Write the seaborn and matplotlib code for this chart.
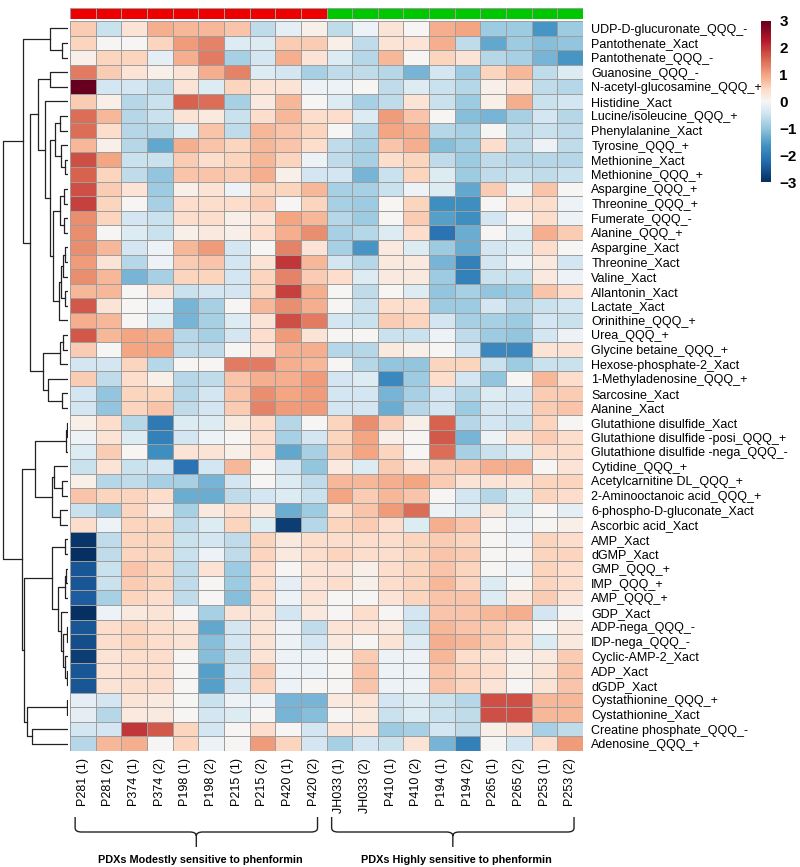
import numpy as np
import pandas as pd
import seaborn as sns
import matplotlib.pyplot as plt
from matplotlib.colors import ListedColormap
from matplotlib.path import Path
from matplotlib.patches import PathPatch

plt.rcParams['font.family'] = ['Liberation Sans', 'DejaVu Sans']

# Row / column labels
metabolites = [
    'UDP-D-glucuronate_QQQ_-', 'Pantothenate_Xact', 'Pantothenate_QQQ_-', 'Guanosine_QQQ_-',
    'N-acetyl-glucosamine_QQQ_+', 'Histidine_Xact', 'Lucine/isoleucine_QQQ_+', 'Phenylalanine_Xact',
    'Tyrosine_QQQ_+', 'Methionine_Xact', 'Methionine_QQQ_+', 'Aspargine_QQQ_+', 'Threonine_QQQ_+',
    'Fumerate_QQQ_-', 'Alanine_QQQ_+', 'Aspargine_Xact', 'Threonine_Xact', 'Valine_Xact',
    'Allantonin_Xact', 'Lactate_Xact', 'Orinithine_QQQ_+', 'Urea_QQQ_+', 'Glycine betaine_QQQ_+',
    'Hexose-phosphate-2_Xact', '1-Methyladenosine_QQQ_+', 'Sarcosine_Xact', 'Alanine_Xact',
    'Glutathione disulfide_Xact', 'Glutathione disulfide -posi_QQQ_+',
    'Glutathione disulfide -nega_QQQ_-', 'Cytidine_QQQ_+', 'Acetylcarnitine DL_QQQ_+',
    '2-Aminooctanoic acid_QQQ_+', '6-phospho-D-gluconate_Xact', 'Ascorbic acid_Xact', 'AMP_Xact',
    'dGMP_Xact', 'GMP_QQQ_+', 'IMP_QQQ_+', 'AMP_QQQ_+', 'GDP_Xact', 'ADP-nega_QQQ_-',
    'IDP-nega_QQQ_-', 'Cyclic-AMP-2_Xact', 'ADP_Xact', 'dGDP_Xact', 'Cystathionine_QQQ_+',
    'Cystathionine_Xact', 'Creatine phosphate_QQQ_-', 'Adenosine_QQQ_+']

samples_modest = ['P281 (1)', 'P281 (2)', 'P374 (1)', 'P374 (2)', 'P198 (1)',
                  'P198 (2)', 'P215 (1)', 'P215 (2)', 'P420 (1)', 'P420 (2)']
samples_high = ['JH033 (1)', 'JH033 (2)', 'P410 (1)', 'P410 (2)', 'P194 (1)',
                'P194 (2)', 'P265 (1)', 'P265 (2)', 'P253 (1)', 'P253 (2)']

group_names = ['PDXs Modestly sensitive to phenformin', 'PDXs Highly sensitive to phenformin']

# z-scores, modestly sensitive PDXs
z_modest = [
    [0.6, -0.5, 0.3, 0.9, 0.8, 0.8, 0.7, -0.6, -0.2, 0.1],
    [0.5, 0.0, 0.0, 0.5, 1.1, 1.3, -0.3, -0.3, 0.6, 0.6],
    [0.1, 0.5, 0.5, -0.2, 0.9, 1.4, -0.8, -0.4, 0.9, 0.3],
    [1.4, 0.6, 0.3, 0.1, 0.3, 0.9, 1.3, -0.3, -0.4, -0.8],
    [3.0, -0.4, -0.4, -0.6, 0.3, -0.3, 0.5, 0.3, 0.3, -0.1],
    [0.6, 0.1, -0.7, -0.5, 1.6, 1.5, -0.8, 0.2, 0.8, 0.0],
    [1.5, 0.8, -0.7, -0.5, 0.3, 0.2, -0.5, 0.4, 0.8, 0.4],
    [1.5, 0.4, -0.7, -0.7, -0.3, 0.7, -0.6, 0.8, 0.7, 0.5],
    [0.8, 0.1, -0.7, -1.4, 0.9, 0.7, 0.5, 0.8, 0.7, 0.4],
    [1.8, 1.0, -0.5, -0.5, 0.6, 0.4, 0.5, 0.8, 0.5, -0.1],
    [1.6, 0.5, -0.6, -1.0, 0.7, 0.7, 0.6, 0.9, 0.1, -0.4],
    [1.8, 0.6, 0.3, -0.9, 0.1, 0.3, -0.1, 0.5, 0.5, 0.8],
    [1.9, 0.5, 0.0, -0.8, 0.4, 0.4, 0.4, 0.6, 0.0, 0.5],
    [1.2, 0.5, -0.4, -0.5, 0.4, 0.4, 0.1, 0.3, 1.0, 0.8],
    [1.2, 0.0, -0.3, -0.5, 0.1, 0.2, 0.1, 0.4, 0.9, 1.2],
    [1.2, 0.8, -0.4, -0.1, 0.8, 1.1, -0.4, 0.0, 1.3, 0.3],
    [1.1, 0.3, -0.7, -0.1, 0.6, 0.7, -0.4, 0.3, 2.0, 0.8],
    [1.2, 0.8, -1.2, -0.8, 0.5, 0.5, -0.4, 0.5, 1.3, 0.6],
    [0.8, 0.8, 0.0, 0.3, -0.5, -0.4, -0.4, 0.5, 1.9, 0.9],
    [1.7, 0.3, 0.0, -0.1, -1.2, -0.8, 0.0, 0.8, 1.2, 0.9],
    [0.9, 0.8, 0.0, -0.3, -1.2, -0.8, -0.3, 0.3, 1.8, 1.4],
    [1.7, 0.8, 1.0, 0.9, -0.7, -0.8, -0.4, 0.4, 1.1, 0.3],
    [0.6, 0.0, 1.0, 1.0, -0.6, -0.6, 0.0, 0.3, 0.9, 0.9],
    [-0.4, -0.4, 0.5, -0.7, 0.0, 0.0, 1.4, 1.4, 0.9, 0.8],
    [0.6, -0.6, 0.4, 0.1, -0.7, -0.6, 0.7, 0.9, 0.9, 1.1],
    [-0.4, -1.0, 0.5, 0.5, -0.7, -0.4, 0.7, 1.2, 1.0, 1.1],
    [-0.4, -1.0, 0.5, 0.7, -0.6, -0.4, 0.6, 1.3, 1.1, 1.1],
    [0.1, 0.4, -0.7, -2.0, -0.3, -0.3, 0.2, 0.4, -0.7, 0.0],
    [-0.1, 0.3, -0.3, -1.9, -0.4, -0.1, 0.0, 0.4, -0.8, -0.4],
    [-0.3, 0.6, 0.0, -1.7, 0.3, 0.3, 0.1, 0.4, -1.4, -0.8],
    [-0.5, 0.3, -0.5, -0.4, -2.1, -0.4, 0.8, 0.0, -0.4, -1.0],
    [0.1, -0.7, -0.6, -0.8, -0.8, -1.2, -0.4, 0.0, -0.3, -0.6],
    [0.7, 0.5, 0.5, 0.4, -1.3, -1.3, -0.6, -0.4, -0.3, -0.5],
    [-0.5, -0.8, 0.5, 0.2, -0.8, 0.2, 0.4, 0.2, -1.3, -0.9],
    [0.4, -0.1, 0.5, 0.5, -0.6, -0.3, 0.5, -0.3, -2.8, -0.7],
    [-2.9, -0.6, 0.5, 0.5, -0.5, -0.4, -0.6, 0.5, 0.2, 0.4],
    [-3.0, -0.6, 0.5, 0.5, -0.5, -0.1, -0.6, 0.5, 0.2, 0.4],
    [-2.5, -0.5, 0.7, 0.5, -0.6, 0.3, -0.9, 0.4, 0.0, 0.3],
    [-2.5, -0.5, 0.6, 0.5, -0.6, 0.0, -0.9, 0.4, -0.2, 0.3],
    [-2.4, -0.8, 0.5, 0.4, -0.6, 0.0, -1.1, 0.4, -0.1, 0.3],
    [-3.0, -0.1, 0.2, 0.3, 0.0, -0.8, 0.3, 0.3, -0.4, 0.2],
    [-2.5, 0.4, 0.5, 0.4, 0.3, -1.4, -0.4, 0.3, -0.1, -0.6],
    [-2.6, 0.4, 0.5, 0.4, 0.3, -1.1, -0.4, 0.3, -0.1, -0.4],
    [-2.8, 0.3, 0.4, 0.4, 0.0, -1.1, -0.5, 0.3, -0.1, -0.1],
    [-2.5, 0.3, 0.4, 0.4, 0.0, -1.5, -0.4, 0.6, -0.1, -0.1],
    [-2.5, 0.3, 0.4, 0.4, 0.0, -1.5, -0.4, 0.5, -0.1, 0.0],
    [-0.2, -0.4, 0.3, 0.2, 0.0, -0.5, -0.1, -0.1, -1.2, -1.2],
    [-0.2, -0.7, 0.2, 0.2, 0.0, -0.4, -0.3, 0.0, -1.2, -1.1],
    [-0.4, -0.4, 2.0, 1.7, 0.5, -0.4, 0.0, 0.4, 0.0, -0.4],
    [-0.7, 0.8, 0.9, 0.0, 0.5, -0.1, 0.0, 1.1, 0.5, -0.4],
]

# z-scores, highly sensitive PDXs
z_high = [
    [-0.6, -0.1, 0.3, 0.0, 0.9, 1.0, -0.9, -0.9, -1.6, -0.9],
    [0.1, -0.6, 0.3, 0.3, 0.9, -0.6, -1.4, -0.9, -1.1, -1.0],
    [-0.3, -0.7, 0.8, 0.0, 0.5, 0.3, -0.7, -0.8, -1.2, -1.6],
    [-0.6, -0.6, -0.7, -1.2, -0.4, -0.9, 0.5, 0.8, -0.6, -0.3],
    [-0.1, 0.0, -0.6, -0.3, -0.5, -0.7, 0.1, 0.3, -0.6, -0.7],
    [-0.3, -0.8, -0.6, 0.3, -0.5, -0.9, 0.1, 0.9, -0.5, -0.4],
    [0.4, -0.3, 1.1, 0.7, 0.0, -1.1, -1.2, -0.8, -0.4, -0.7],
    [0.0, -0.7, 1.0, 0.9, -0.7, -0.8, 0.0, -0.6, -0.5, -0.6],
    [-0.6, -0.8, 0.7, 0.9, -1.1, -0.9, 0.4, -0.6, -0.1, -0.6],
    [-0.6, -0.8, 0.4, 0.5, -0.6, -0.9, -0.6, -0.7, -0.7, -0.7],
    [-0.4, -1.2, -0.5, 0.5, -0.3, -0.9, -0.6, -0.5, -0.6, -0.5],
    [-0.8, -0.8, -0.5, -0.1, -0.3, -1.4, 0.6, -0.1, 0.7, 0.0],
    [-0.8, -0.9, 0.0, 0.5, -1.7, -1.7, 0.0, 0.3, 0.4, -0.1],
    [-0.7, -0.9, 0.0, 0.6, -1.5, -1.7, -0.4, 0.0, 0.4, -0.1],
    [-0.8, -0.7, -0.3, 0.4, -2.1, -1.3, 0.0, -0.3, 0.9, 0.6],
    [-0.8, -1.6, 0.2, -0.3, -0.9, -1.3, -0.4, -0.3, 0.4, 0.0],
    [-0.4, -0.7, 0.2, 0.2, -1.2, -1.9, -0.4, -0.1, 0.2, -0.4],
    [0.4, -0.3, 0.2, 0.2, -0.9, -1.9, -0.5, -0.5, 0.2, -0.1],
    [0.0, -0.6, 0.0, -0.3, -1.0, -0.8, -1.0, -0.9, 0.7, 0.4],
    [0.0, -0.5, 0.4, 0.4, -0.9, -0.9, -0.4, -0.7, -0.5, -0.4],
    [-0.4, -0.5, 0.6, 0.5, -0.4, -0.8, -0.8, -0.9, -0.4, -0.5],
    [0.0, 0.0, -0.5, -0.5, -0.1, -0.6, -0.9, -1.0, -0.4, -0.1],
    [-0.7, -0.7, 0.2, 0.1, 0.0, -0.4, -1.8, -1.8, 0.3, 0.3],
    [0.0, -0.7, -1.0, -1.0, 0.5, 0.5, -0.5, -0.9, -0.5, -0.5],
    [-0.4, -0.3, -1.8, -0.9, 0.4, -0.4, -1.0, 0.0, 0.8, 0.4],
    [-0.4, -0.4, -1.2, -0.8, -0.4, -0.7, -0.3, -0.4, 0.6, 0.6],
    [-0.4, -0.4, -1.3, -0.7, -0.4, -0.9, -0.4, -0.4, 0.6, 0.7],
    [0.5, 1.2, 0.6, 0.1, 1.6, -0.7, -0.4, -0.5, 0.5, 0.0],
    [0.5, 1.0, 0.1, 0.0, 1.7, -1.2, -0.1, 0.3, 0.6, 0.4],
    [0.6, 1.0, 0.5, 0.0, 1.5, -0.8, -0.5, -0.3, 0.4, 0.4],
    [0.2, -0.3, 0.6, 0.3, 0.6, 0.7, 0.9, 0.9, 0.0, 0.3],
    [0.8, 0.8, 0.9, 1.0, 0.6, 0.3, 0.3, 0.3, 0.5, 0.5],
    [1.0, 0.6, 0.8, 0.7, 0.0, -0.4, -0.7, -0.3, 0.5, 0.4],
    [0.4, 0.7, 1.1, 1.5, -0.1, -0.3, 0.2, -0.3, 0.0, -0.2],
    [0.5, 0.6, 0.4, -0.3, 0.9, 0.7, 0.0, -0.1, 0.0, 0.1],
    [0.4, 0.4, 0.4, 0.5, 0.6, 0.5, 0.0, -0.1, 0.5, 0.4],
    [0.5, 0.4, 0.4, 0.5, 0.7, 0.6, 0.0, 0.0, 0.5, 0.5],
    [0.3, 0.1, 0.4, 0.5, 0.7, 0.5, 0.0, -0.1, 0.5, 0.4],
    [0.4, 0.1, 0.4, 0.5, 0.8, 0.5, -0.3, 0.0, 0.5, 0.4],
    [0.0, 0.0, 0.3, 0.5, 0.7, 0.7, -0.3, 0.2, 0.6, 0.3],
    [0.0, 0.4, 0.0, -0.4, 0.7, 0.7, 0.8, 0.9, -0.4, 0.0],
    [0.3, 0.3, 0.2, -0.5, 0.8, 0.7, 0.6, 0.4, 0.0, 0.2],
    [0.2, 0.0, 0.3, -0.3, 0.9, 0.8, 0.6, 0.4, -0.3, 0.2],
    [0.0, 0.6, -0.1, -0.1, 0.8, 0.4, 0.3, 0.1, 0.2, 0.6],
    [0.0, 0.7, -0.1, -0.1, 0.7, 0.5, 0.4, 0.1, 0.3, 0.7],
    [0.0, 0.7, -0.1, -0.1, 0.7, 0.5, 0.3, 0.0, 0.3, 0.7],
    [0.2, 0.3, -0.4, -0.3, -0.5, -0.7, 1.8, 1.8, 0.8, 0.8],
    [0.0, 0.2, -0.5, -0.3, -0.5, -0.6, 1.8, 1.8, 0.8, 0.8],
    [0.3, 0.3, -0.9, -0.8, -0.4, -0.6, 0.1, 0.3, -0.8, -0.6],
    [-0.8, -0.4, -0.5, 0.3, -1.2, -1.9, 0.0, -0.4, 0.4, 1.1],
]

# Row clustering as merges: (child a, child b, height); leaves are 0..49, new nodes 50, 51, ...
row_merges = [
    (1, 2, 6), (0, 50, 18),
    (3, 4, 18), (6, 7, 8), (9, 10, 3), (8, 54, 7), (53, 55, 13),
    (11, 12, 4), (13, 14, 4), (57, 58, 8), (15, 16, 3), (60, 17, 5),
    (18, 19, 3), (61, 62, 7), (63, 20, 9), (59, 64, 15), (56, 65, 18),
    (5, 66, 23), (52, 67, 30),
    (21, 22, 5), (69, 23, 8), (25, 26, 6), (24, 71, 20), (70, 72, 25),
    (68, 73, 38), (51, 74, 45),
    (27, 28, 1), (76, 29, 2), (31, 32, 6), (30, 78, 14), (33, 34, 8),
    (79, 80, 16), (77, 81, 33),
    (35, 36, 3), (37, 38, 2), (84, 39, 3), (41, 42, 1), (44, 45, 1),
    (43, 87, 3), (86, 88, 5), (40, 89, 7), (85, 90, 10), (83, 91, 16),
    (46, 47, 1), (48, 49, 36), (93, 94, 41), (92, 95, 44),
    (82, 96, 46), (75, 97, 65),
]

samples = samples_modest + samples_high
values = np.hstack([np.array(z_modest), np.array(z_high)])
df = pd.DataFrame(values, index=metabolites, columns=samples)
groups = np.array([[0] * len(samples_modest) + [1] * len(samples_high)])

# RdBu_r, pushed a little away from white so light cells read like the original
base = plt.get_cmap('RdBu_r')
t = np.linspace(0, 1, 256)
t = 0.5 + np.sign(t - 0.5) * np.abs(2 * (t - 0.5)) ** 0.85 / 2
heat_cmap = ListedColormap(base(t))

W, H = 800, 867
fig = plt.figure(figsize=(W / 100, H / 100), dpi=100)

def px_axes(x0, y0, x1, y1):
    # axes from pixel box (top-left origin)
    return fig.add_axes([x0 / W, 1 - y1 / H, (x1 - x0) / W, (y1 - y0) / H])

hm_left, hm_right, hm_top, hm_bot = 70, 583, 21, 751
ax = px_axes(hm_left, hm_top, hm_right, hm_bot)
cax = px_axes(761, 21, 771, 182)
ann = px_axes(hm_left, 8, hm_right, 19)
dax = px_axes(0, hm_top, 68, hm_bot)
bax = px_axes(hm_left, 800, hm_right, H)

grid_col = '#9e9e9e'

sns.heatmap(df, ax=ax, cmap=heat_cmap, vmin=-3, vmax=3, linewidths=0.7,
            linecolor=grid_col, cbar_ax=cax, xticklabels=True, yticklabels=True)
ax.yaxis.tick_right()
ax.tick_params(axis='both', length=0, labelsize=9)
ax.tick_params(axis='y', pad=6)
ax.tick_params(axis='x', pad=5)
plt.setp(ax.get_yticklabels(), rotation=0, ha='left')
plt.setp(ax.get_xticklabels(), rotation=90)
ax.set_xlabel('')
ax.set_ylabel('')

cbar = ax.collections[0].colorbar
cbar.outline.set_visible(False)
cbar.set_ticks([-3, -2, -1, 0, 1, 2, 3])
cbar.ax.tick_params(length=0, labelsize=11, pad=6)
for lab in cbar.ax.get_yticklabels():
    lab.set_fontweight('bold')

sns.heatmap(groups, ax=ann, cmap=ListedColormap(['#ee0000', '#00c800']), cbar=False,
            linewidths=0.7, linecolor=grid_col, xticklabels=False, yticklabels=False)

# row dendrogram
pos = {i: (i + 0.5, 0.0) for i in range(len(metabolites))}
for k, (a, b, h) in enumerate(row_merges):
    ya, ha = pos[a]
    yb, hb = pos[b]
    dax.plot([ha, h, h, hb], [ya, ya, yb, yb], color='#222222', lw=0.9)
    pos[len(metabolites) + k] = ((ya + yb) / 2, h)
dax.set_xlim(68, 0)
dax.set_ylim(len(metabolites), 0)
dax.axis('off')

# group braces under the column labels
def brace(axis, x0, x1, ytop, ybot, ytip, r=0.25, rp=4):
    xm = (x0 + x1) / 2
    verts = [(x0, ytop), (x0, ybot - rp), (x0, ybot), (x0 + r, ybot),
             (xm - r, ybot), (xm, ybot), (xm, ybot + rp), (xm, ytip),
             (xm, ybot + rp), (xm, ybot), (xm + r, ybot),
             (x1 - r, ybot), (x1, ybot), (x1, ybot - rp), (x1, ytop)]
    codes = [Path.MOVETO, Path.LINETO, Path.CURVE3, Path.CURVE3,
             Path.LINETO, Path.CURVE3, Path.CURVE3, Path.LINETO,
             Path.MOVETO, Path.CURVE3, Path.CURVE3,
             Path.LINETO, Path.CURVE3, Path.CURVE3, Path.LINETO]
    axis.add_patch(PathPatch(Path(verts, codes), fill=False, lw=1.0, edgecolor='#222222'))
    return xm

bax.set_xlim(0, len(samples))
bax.set_ylim(H, 800)
bax.axis('off')
starts = [0, len(samples_modest)]
ends = [len(samples_modest), len(samples)]
for s, e, name in zip(starts, ends, group_names):
    xm = brace(bax, s + 0.2, e - 0.35, 817, 832, 847)
    bax.text(xm + 0.15, 860, name, ha='center', va='center', fontsize=7.8, fontweight='bold')

fig.savefig('out.png', dpi=100)
